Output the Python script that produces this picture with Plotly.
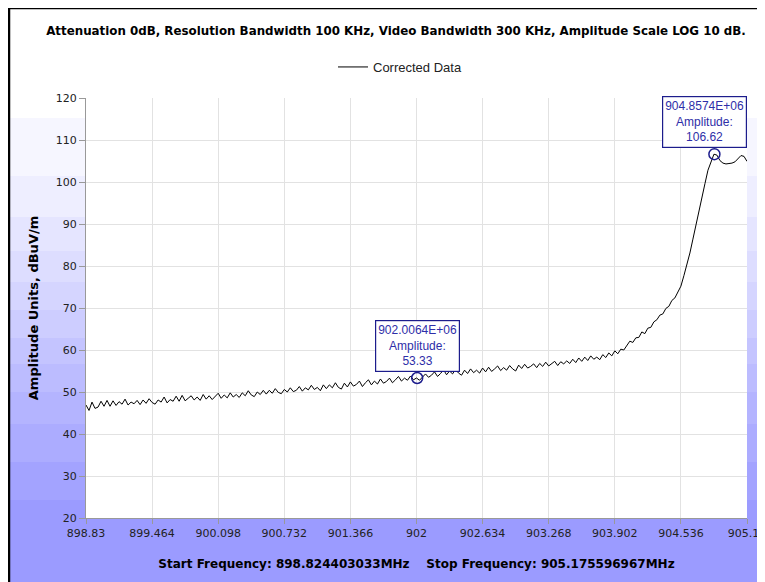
import numpy as np
import plotly.graph_objects as go

# ---------------- data ----------------
start_freq = 898.83
stop_freq = 905.17
amplitude = [
    46.9, 45.6, 47.6, 46.1, 46.4, 47.8, 46.6, 48.0, 46.6, 47.9,
    46.8, 47.7, 47.1, 48.3, 46.9, 47.6, 47.2, 48.0, 47.0, 48.1,
    47.3, 48.4, 47.5, 47.1, 48.1, 47.6, 48.8, 47.4, 48.2, 47.8,
    49.0, 47.8, 49.2, 47.9, 48.5, 49.1, 48.1, 48.8, 48.0, 49.4,
    48.3, 49.1, 48.2, 48.9, 49.7, 48.5, 49.3, 48.6, 49.8, 48.8,
    49.4, 48.7, 49.8, 49.1, 50.3, 49.3, 48.9, 50.0, 49.4, 50.4,
    49.5, 50.4, 49.7, 50.8, 49.9, 49.6, 50.6, 50.0, 51.0, 50.1,
    50.4, 51.3, 50.2, 51.0, 50.5, 51.6, 50.6, 51.1, 50.3, 51.7,
    50.8, 51.7, 51.0, 52.2, 51.1, 50.7, 52.1, 51.2, 52.4, 51.4,
    51.8, 52.6, 51.3, 52.2, 52.9, 51.7, 52.6, 51.9, 53.1, 52.1,
    52.5, 53.3, 52.2, 52.9, 53.7, 52.6, 53.3, 52.8, 53.8, 52.9,
    53.33, 52.8, 53.5, 54.3, 53.5, 54.0, 54.8, 53.7, 54.4, 55.3,
    54.1, 55.0, 54.3, 55.4, 54.5, 54.0, 55.2, 54.4, 55.5, 54.6,
    55.2, 54.5, 55.7, 54.8, 55.9, 54.9, 55.5, 56.2, 55.1, 55.8,
    55.2, 56.3, 55.5, 55.0, 56.4, 55.6, 56.6, 55.7, 56.1, 56.7,
    55.8, 56.8, 56.1, 57.1, 56.2, 56.8, 57.3, 56.3, 57.2, 56.7,
    57.4, 56.8, 57.8, 57.0, 58.1, 57.3, 58.3, 57.5, 58.6, 57.8,
    58.3, 57.7, 58.9, 58.2, 59.3, 58.6, 59.8, 59.1, 60.2, 60.0,
    61.0, 62.1, 61.8, 62.9, 63.0, 64.3, 63.9, 65.2, 65.4, 66.7,
    67.2, 68.3, 68.6, 69.9, 70.4, 71.8, 72.4, 73.9, 75.2, 77.7,
    80.3, 83.1, 86.4, 89.9, 93.2, 96.3, 99.6, 102.8, 105.0, 106.62,
    106.4, 105.1, 104.5, 104.3, 104.4, 104.5, 104.8, 105.6, 106.3, 106.1,
    104.9,
]
frequency = np.linspace(start_freq, stop_freq, len(amplitude))

marker_freq = [902.0064, 904.8574]
marker_amp = [53.33, 106.62]
marker_label = ["902.0064E+06", "904.8574E+06"]

x_tickvals = [898.83, 899.464, 900.098, 900.732, 901.366, 902.0,
              902.634, 903.268, 903.902, 904.536, 905.17]
x_ticktext = ["898.83", "899.464", "900.098", "900.732", "901.366", "902",
              "902.634", "903.268", "903.902", "904.536", "905.17"]
y_tickvals = [20, 30, 40, 50, 60, 70, 80, 90, 100, 110, 120]

title_text = ("Attenuation 0dB, Resolution Bandwidth 100 KHz, Video Bandwidth 300 KHz, "
              "Amplitude Scale LOG 10 dB.")
x_title = "Start Frequency: 898.824403033MHz&nbsp;&nbsp;&nbsp;&nbsp;Stop Frequency: 905.175596967MHz"
y_title = "Amplitude Units, dBuV/m"

# ---------------- layout geometry ----------------
# the page body has an 8px margin; screen positions are figure positions + 8
OFF = 8
W, H = 757, 574
L, R, T, B = 78, 18, 90, 64
PW, PH = W - L - R, H - T - B


def px2x(px):
    return (px - OFF - L) / PW


def py2y(py):
    return (H - B - (py - OFF)) / PH


FONT = "DejaVu Sans"

fig = go.Figure()

fig.add_trace(go.Scatter(
    x=frequency, y=amplitude, mode="lines", name="Corrected Data",
    line=dict(color="black", width=1), showlegend=True,
))
fig.add_trace(go.Scatter(
    x=marker_freq, y=marker_amp, mode="markers", showlegend=False,
    marker=dict(symbol="circle-open", size=11, color="#1c1c8c", line=dict(width=1.5, color="#1c1c8c")),
))

shapes = []
# background bands (gradient)
bands = [118, 176, 217, 251, 282, 310, 338, 364, 392, 424, 462, 500, 600]
n = len(bands) - 1
for i in range(n):
    t = i / (n - 1)
    c = int(round(246 - (246 - 155) * t))
    shapes.append(dict(type="rect", xref="paper", yref="paper", layer="below",
                       x0=px2x(10), x1=px2x(780), y0=py2y(bands[i + 1]), y1=py2y(bands[i]),
                       line=dict(width=0), fillcolor=f"rgb({c},{c},255)"))
# white plot area
shapes.append(dict(type="rect", xref="x domain", yref="y domain", layer="below",
                   x0=0, x1=1, y0=0, y1=1, line=dict(width=0), fillcolor="white"))
# frame lines
shapes.append(dict(type="line", xref="paper", yref="paper", x0=px2x(9), x1=px2x(9),
                   y0=py2y(8), y1=py2y(600), line=dict(color="black", width=2.5)))
shapes.append(dict(type="line", xref="paper", yref="paper", x0=px2x(8), x1=px2x(780),
                   y0=py2y(8), y1=py2y(8), line=dict(color="black", width=2.5)))

annotations = []
shifts = [0, -10]
for f, a, lab, xs in zip(marker_freq, marker_amp, marker_label, shifts):
    annotations.append(dict(
        x=f, y=a, xref="x", yref="y", showarrow=False,
        text=f"{lab}<br>Amplitude:<br>{a:.2f}",
        xanchor="center", yanchor="bottom", yshift=6, xshift=xs,
        font=dict(family="Liberation Sans", size=12, color="#2e2ea8"),
        bgcolor="white", bordercolor="#1c1c8c", borderwidth=1.2, borderpad=2,
    ))

fig.update_layout(
    width=W, height=H,
    margin=dict(l=L, r=R, t=T, b=B, autoexpand=False),
    paper_bgcolor="white", plot_bgcolor="white",
    title=dict(text=f"<b>{title_text}</b>", xref="container", yref="container",
               x=(396 - OFF) / W, y=1 - (31 - OFF) / H, xanchor="center", yanchor="middle",
               font=dict(family=FONT, size=11.85, color="black")),
    legend=dict(orientation="h", x=px2x(333), y=py2y(67), xanchor="left", yanchor="middle",
                bgcolor="rgba(0,0,0,0)", font=dict(family="Liberation Sans", size=13, color="#222")),
    shapes=shapes,
    annotations=annotations,
    xaxis=dict(range=[start_freq, stop_freq], tickvals=x_tickvals, ticktext=x_ticktext,
               showgrid=True, gridcolor="#e2e2e2", gridwidth=1,
               showline=True, linecolor="#999999", linewidth=1,
               ticks="outside", ticklen=5, tickcolor="#999999",
               tickfont=dict(family=FONT, size=11, color="#222"),
               ticklabeloverflow="allow",
               zeroline=False, automargin=False,
               title=dict(text=f"<b>{x_title}</b>", standoff=20,
                          font=dict(family=FONT, size=12, color="black"))),
    yaxis=dict(range=[20, 120], tickvals=y_tickvals,
               showgrid=True, gridcolor="#e2e2e2", gridwidth=1,
               showline=True, linecolor="#999999", linewidth=1,
               ticks="outside", ticklen=6, tickcolor="#999999",
               tickfont=dict(family=FONT, size=11, color="#222"),
               zeroline=False, automargin=False,
               title=dict(text=f"<b>{y_title}</b>", standoff=14,
                          font=dict(family=FONT, size=13, color="black"))),
)

fig.write_html("out.html")
